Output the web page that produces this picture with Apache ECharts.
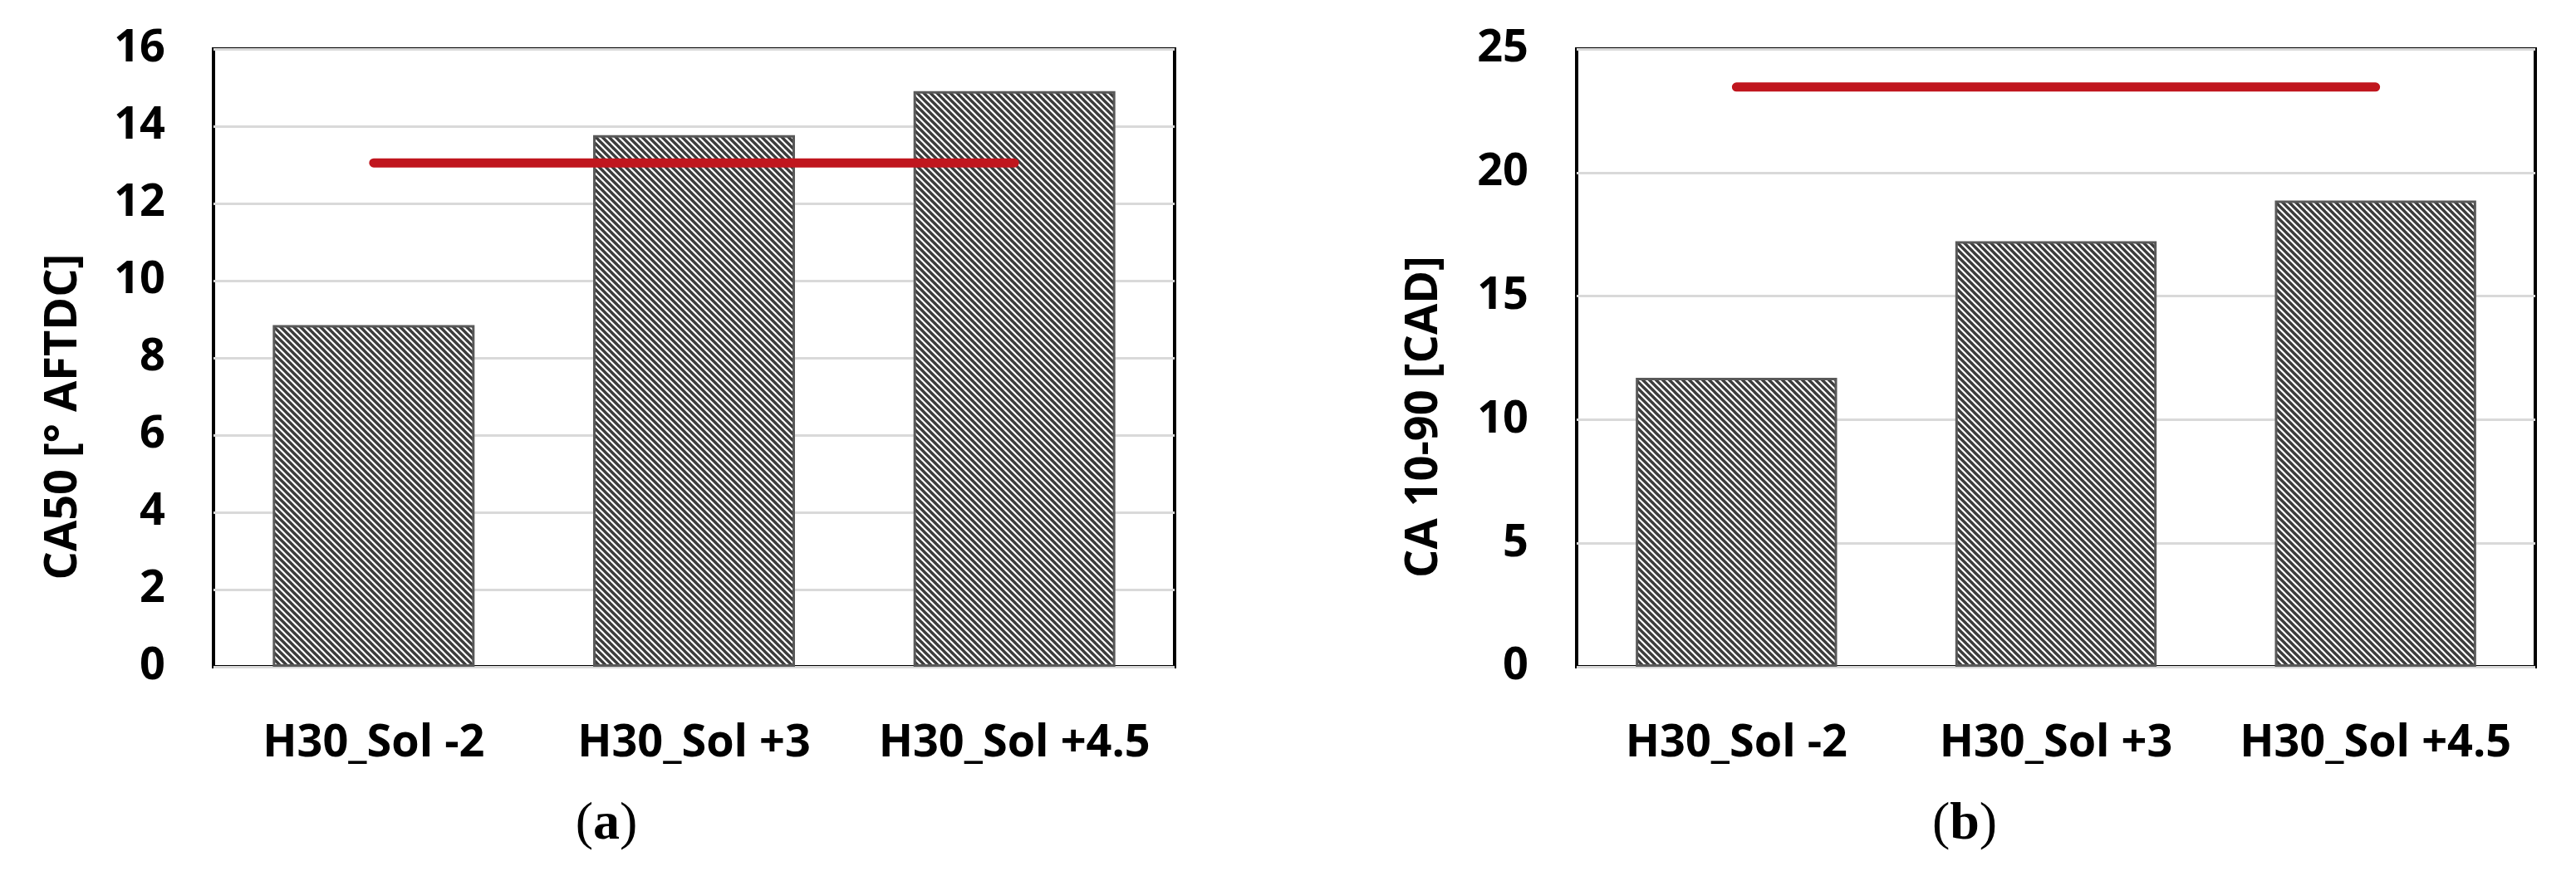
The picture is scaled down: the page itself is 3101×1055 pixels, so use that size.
<!DOCTYPE html>
<html>
<head>
<meta charset="utf-8">
<title>CA50 / CA 10-90</title>
<script src="https://cdn.jsdelivr.net/npm/echarts@6/dist/echarts.min.js"></script>
<style>
	html,body{margin:0;padding:0;background:#fff;}
	#container{width:3101px;height:1055px;}
</style>
</head>
<body>
<div id="container"></div>
<script>
// data
var categories = ['H30_Sol -2', 'H30_Sol +3', 'H30_Sol +4.5'];
var ca50Values = [8.85, 13.77, 14.91];
var ca50Ref = [13.05, 13.05, 13.05];
var ca1090Values = [11.69, 17.22, 18.87];
var ca1090Ref = [23.46, 23.46, 23.46];
var ca50Axis = {min: 0, max: 16, interval: 2};
var ca1090Axis = {min: 0, max: 25, interval: 5};

var labelFont = '"Open Sans", "DejaVu Sans", sans-serif';

// diagonal hatch like the excel "wide downward diagonal" fill
function makeHatch(){
	var c = document.createElement('canvas');
	c.width = 8;
	c.height = 8;
	var ctx = c.getContext('2d');
	ctx.fillStyle = '#ffffff';
	ctx.fillRect(0, 0, 8, 8);
	ctx.strokeStyle = '#3c3c3c';
	ctx.lineWidth = 3.4;
	for (var i = -1; i <= 1; i++) {
		ctx.beginPath();
		ctx.moveTo(i * 8 - 2, -2);
		ctx.lineTo(i * 8 + 10, 10);
		ctx.stroke();
	}
	return c;
}
var hatch = {image: makeHatch(), repeat: 'repeat'};

function xAxisFor(idx){
	return {
		type: 'category',
		gridIndex: idx,
		data: categories,
		axisLine: {show: false},
		axisTick: {show: false},
		axisLabel: {
			interval: 0,
			margin: 66,
			color: '#000',
			fontFamily: labelFont,
			fontWeight: 'bold',
			fontSize: 54
		}
	};
}

function yAxisFor(idx, ax){
	return {
		type: 'value',
		gridIndex: idx,
		min: ax.min,
		max: ax.max,
		interval: ax.interval,
		axisLine: {show: false},
		axisTick: {show: false},
		splitLine: {
			lineStyle: {color: '#d9d9d9', width: 3}
		},
		axisLabel: {
			margin: 58,
			color: '#000',
			fontFamily: labelFont,
			fontWeight: 'bold',
			fontSize: 54
		}
	};
}

function barSeries(idx, values){
	return {
		type: 'bar',
		xAxisIndex: idx,
		yAxisIndex: idx,
		data: values,
		barWidth: '63%',
		itemStyle: {
			color: hatch,
			borderColor: '#595959',
			borderWidth: 3
		},
		z: 2
	};
}

function refSeries(idx, values){
	return {
		type: 'line',
		xAxisIndex: idx,
		yAxisIndex: idx,
		data: values,
		symbol: 'none',
		lineStyle: {color: '#c0161e', width: 11, cap: 'round'},
		z: 3
	};
}

var dom = document.getElementById('container');
var myChart = echarts.init(dom);

var option = {
	animation: false,
	backgroundColor: '#fff',
	grid: [
		{left: 257, top: 59, width: 1157, height: 744, show: true, borderColor: '#000', borderWidth: 4, backgroundColor: 'transparent'},
		{left: 1898, top: 59, width: 1154, height: 744, show: true, borderColor: '#000', borderWidth: 4, backgroundColor: 'transparent'}
	],
	xAxis: [xAxisFor(0), xAxisFor(1)],
	yAxis: [yAxisFor(0, ca50Axis), yAxisFor(1, ca1090Axis)],
	series: [
		barSeries(0, ca50Values),
		refSeries(0, ca50Ref),
		barSeries(1, ca1090Values),
		refSeries(1, ca1090Ref)
	],
	graphic: [
		{
			type: 'text', x: 77, y: 502, rotation: Math.PI / 2,
			style: {text: 'CA50 [° AFTDC]', font: 'bold 54px ' + labelFont, fill: '#000', align: 'center', verticalAlign: 'middle'}
		},
		{
			type: 'text', x: 1715, y: 502, rotation: Math.PI / 2,
			style: {text: 'CA 10-90 [CAD]', font: 'bold 54px ' + labelFont, fill: '#000', align: 'center', verticalAlign: 'middle'}
		},
		{
			type: 'text', x: 730, y: 993,
			style: {
				text: '({b|a})',
				font: '64px "Liberation Serif", serif',
				fill: '#000', align: 'center', verticalAlign: 'middle',
				rich: {b: {font: 'bold 64px "Liberation Serif", serif', fill: '#000'}}
			}
		},
		{
			type: 'text', x: 2365, y: 993,
			style: {
				text: '({b|b})',
				font: '64px "Liberation Serif", serif',
				fill: '#000', align: 'center', verticalAlign: 'middle',
				rich: {b: {font: 'bold 64px "Liberation Serif", serif', fill: '#000'}}
			}
		}
	]
};

myChart.setOption(option);
</script>
</body>
</html>
